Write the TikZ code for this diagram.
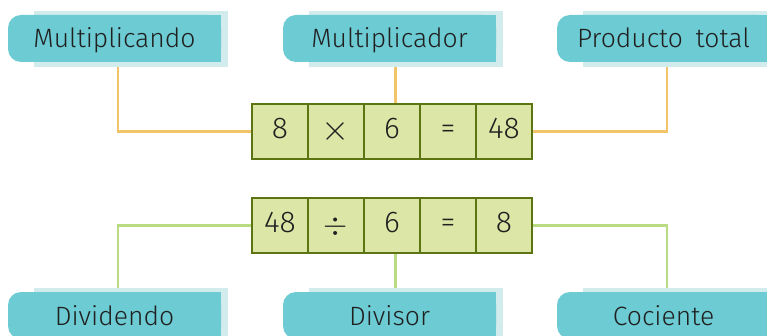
\documentclass[tikz,border=0pt]{standalone}
\usepackage{fontspec}
\setmainfont{Fira Sans}[UprightFont=* Light]
\usepackage{graphicx}
\usepackage{tikz}
\usetikzlibrary{positioning, backgrounds}
\definecolor{labteal}{HTML}{6DCBD3}
\definecolor{labback}{HTML}{D2EBEC}
\definecolor{cellfill}{HTML}{DCE6A6}
\definecolor{celledge}{HTML}{5C7412}
\definecolor{lineor}{HTML}{F2C46A}
\definecolor{linegr}{HTML}{B9DB82}
\definecolor{ink}{HTML}{202020}

\begin{document}
\begin{tikzpicture}[x=1pt, y=-1pt,
      lab/.style={rectangle, fill=labteal, rounded corners=13pt, minimum width=213pt, minimum height=47pt, inner sep=0pt, outer sep=0pt, text=ink, font=\fontsize{26.5}{26.5}\selectfont, text height=19pt, text depth=0pt},
      cell/.style={rectangle, draw=celledge, fill=cellfill, line width=1.6pt, minimum width=56pt, minimum height=55pt, inner sep=0pt, outer sep=0pt, text=ink, font=\fontsize{30}{30}\selectfont, text height=20pt, text depth=5pt},
      orline/.style={lineor, line width=2.4pt},
      grline/.style={linegr, line width=2.4pt},
    ]
    \useasboundingbox (0,0) rectangle (767,336);
    % labels
    \node[lab] (lmcando) at (114.5,38.5) {Multiplicando};
    \node[lab] (lmcador) at (389.5,38.5) {Multiplicador};
    \node[lab] (lprod) at (663.5,38.5) {Producto\hspace{0.2em} total};
    \node[lab] (ldvdo) at (114.5,315.5) {Dividendo};
    \node[lab] (ldvsr) at (389.5,315.5) {Divisor};
    \node[lab] (lcoc) at (663.5,315.5) {Cociente};
    % multiplication row
    \node[cell] (m1) at (280,131.5) {8};
    \node[cell, right=0pt of m1] (m2) {\raisebox{-2pt}{\scalebox{1.45}{$\times$}}};
    \node[cell, right=0pt of m2] (m3) {6};
    \node[cell, right=0pt of m3] (m4) {=};
    \node[cell, right=0pt of m4] (m5) {48};
    % division row
    \node[cell] (d1) at (280,225.5) {48};
    \node[cell, right=0pt of d1] (d2) {\raisebox{-2pt}{\scalebox{1.25}{$\div$}}};
    \node[cell, right=0pt of d2] (d3) {6};
    \node[cell, right=0pt of d3] (d4) {=};
    \node[cell, right=0pt of d4] (d5) {8};
    \begin{scope}[on background layer]
      \draw[orline] ([xshift=3.5pt]lmcando.south) |- (m1.west);
      \draw[orline] ([xshift=3.5pt]m3.north) -- ([xshift=3.5pt]m3.north |- lmcador.south);
      \draw[orline] (m5.east) -| ([xshift=3.5pt]lprod.south);
      \draw[grline] (d1.west) -| ([xshift=3.5pt]ldvdo.north);
      \draw[grline] ([xshift=3.5pt]d3.south) -- ([xshift=3.5pt]d3.south |- ldvsr.north);
      \draw[grline] (d5.east) -| ([xshift=3.5pt]lcoc.north);
      % pale backing and square right side of the labels
      \fill[labback] ([xshift=26pt, yshift=4pt]lmcando.north west) rectangle ([xshift=7pt, yshift=-5pt]lmcando.south east);
      \fill[labback] ([xshift=26pt, yshift=4pt]lmcador.north west) rectangle ([xshift=7pt, yshift=-5pt]lmcador.south east);
      \fill[labback] ([xshift=26pt, yshift=4pt]lprod.north west) rectangle ([xshift=7pt, yshift=-5pt]lprod.south east);
      \fill[labback] ([xshift=26pt, yshift=4pt]ldvdo.north west) rectangle ([xshift=7pt, yshift=-5pt]ldvdo.south east);
      \fill[labback] ([xshift=26pt, yshift=4pt]ldvsr.north west) rectangle ([xshift=7pt, yshift=-5pt]ldvsr.south east);
      \fill[labback] ([xshift=26pt, yshift=4pt]lcoc.north west) rectangle ([xshift=7pt, yshift=-5pt]lcoc.south east);
      \fill[labteal] (lmcando.north) rectangle (lmcando.south east);
      \fill[labteal] (lmcador.north) rectangle (lmcador.south east);
      \fill[labteal] (lprod.north) rectangle (lprod.south east);
      \fill[labteal] (ldvdo.north) rectangle (ldvdo.south east);
      \fill[labteal] (ldvsr.north) rectangle (ldvsr.south east);
      \fill[labteal] (lcoc.north) rectangle (lcoc.south east);
    \end{scope}
  \end{tikzpicture}
\end{document}
